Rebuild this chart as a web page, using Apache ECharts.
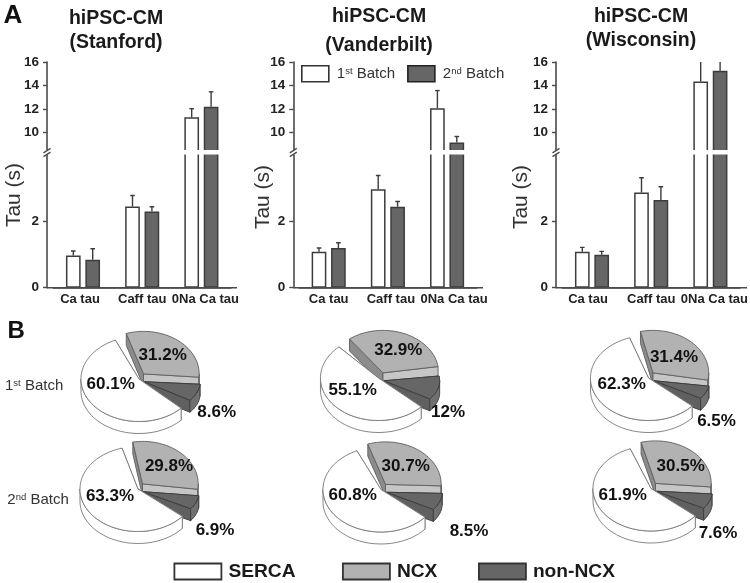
<!DOCTYPE html>
<html><head><meta charset="utf-8">
<script src="https://cdn.jsdelivr.net/npm/echarts@6/dist/echarts.min.js"></script>
<style>html,body{margin:0;padding:0;background:#fff}#c{width:750px;height:583px}</style>
</head><body><div id="c"></div>
<script>
// ---------- DATA ----------
const tauCategories = ['Ca tau', 'Caff tau', '0Na Ca tau'];
const panelNames = ['Stanford', 'Vanderbilt', 'Wisconsin'];
const batchNames = ['1st Batch', '2nd Batch'];
const yTicksUpper = [10, 12, 14, 16];
const yTicksLower = [0, 2];

const stanford1 = [0.97, 2.44, 11.3];
const stanford1Top = [1.10, 2.77, 12.03];
const stanford2 = [0.84, 2.29, 12.2];
const stanford2Top = [1.17, 2.43, 13.46];

const vanderbilt1 = [1.08, 2.96, 12.06];
const vanderbilt1Top = [1.19, 3.37, 13.57];
const vanderbilt2 = [1.19, 2.43, 9.14];
const vanderbilt2Top = [1.35, 2.59, 9.66];

const wisconsin1 = [1.08, 2.86, 14.33];
const wisconsin1Top = [1.21, 3.30, 16.6];
const wisconsin2 = [0.99, 2.63, 15.26];
const wisconsin2Top = [1.09, 3.03, 16.4];

const sliceNames = ['SERCA', 'NCX', 'non-NCX'];
// order of pies: row 1 col 1..3, row 2 col 1..3
const serca  = [60.1, 55.1, 62.3, 63.3, 60.8, 61.9];
const ncx    = [31.2, 32.9, 31.4, 29.8, 30.7, 30.5];
const nonNcx = [8.6, 12, 6.5, 6.9, 8.5, 7.6];

// ---------- LAYOUT ----------
const FONT = '"Liberation Sans", Arial, sans-serif';
const panelLayout = [
  {axisX: 47,    endX: 237, first: 83,    titleX: 116, title1: 19, title2: 43, tauX: 14.7, tauY: 195, labelShift: [-3, 0, 4]},
  {axisX: 293.3, endX: 483, first: 328.7, titleX: 379, title1: 17, title2: 46, tauX: 263, tauY: 197, labelShift: [0, 3, 7]},
  {axisX: 556,   endX: 747, first: 592,   titleX: 641, title1: 17, title2: 41, tauX: 521.3, tauY: 197, labelShift: [-4, 0, 4]}
];
const SPACING = 59.2, BAR_W = 14.7, BAR_GAP = 4.7;
const UP_TOP = 62, BREAK_Y = 152, ZERO_Y = 287.7;
const UP_MIN = 16 - (BREAK_Y - UP_TOP) / 11.75;
const LOW_MAX = (ZERO_Y - BREAK_Y) / 33.3;

const RX = 58, RY = 42.5, DEPTH = 12 / 42.5;
const M = 1.25;
const pieLayout = [
  {cx: 141,   cy: 377.5, start: 108},
  {cx: 380.5, cy: 376.5, start: 127},
  {cx: 650.5, cy: 376.5, start: 103},
  {cx: 140,   cy: 487.5, start: 100},
  {cx: 383,   cy: 488,   start: 108.5},
  {cx: 653,   cy: 487,   start: 105}
];
// label centres, in order serca, ncx, nonNcx
const pieLabelPos = [
  [[110.7, 384], [162.7, 355], [216.7, 412.7]],
  [[352.7, 390.7], [398.3, 350.7], [448, 412]],
  [[621.7, 384], [674, 357.3], [716.5, 421]],
  [[110, 496], [169, 466], [215, 530]],
  [[352.7, 495], [405.7, 466.7], [469, 531]],
  [[622.7, 495.7], [680.7, 466], [718, 533]]
];
// off: slice displacement in pie units; sx, sy: scale; z2: paint order; trim: degrees of gap at each end
const sliceStyle = [
  {top: '#ffffff', stroke: '#777777', startWall: '#ffffff', endWall: '#ffffff', outer: '#ffffff', z2: 3, off: [-0.035, -0.035], sx: 1, sy: 1, trim: [8, 6]},
  {top: '#b2b2b2', stroke: '#5e5e5e', startWall: '#8c8c8c', endWall: '#c6c6c6', outer: '#9a9a9a', z2: 1, off: [0.043, 0.085], sx: 0.96, sy: 1, trim: [0, 0]},
  {top: '#666666', stroke: '#3c3c3c', startWall: '#606060', endWall: '#606060', outer: '#707070', z2: 2, off: [0.06, -0.1], sx: 0.96, sy: 0.75, trim: [0, 0]}
];
const bottomLegendLeft = [173.5, 342, 478];

// ---------- OPTION ----------
const grids = [], xAxes = [], yAxes = [], series = [], graphics = [];
const axisColor = '#4a4a4a';
const barSets = [
  [[stanford1, stanford1Top], [stanford2, stanford2Top]],
  [[vanderbilt1, vanderbilt1Top], [vanderbilt2, vanderbilt2Top]],
  [[wisconsin1, wisconsin1Top], [wisconsin2, wisconsin2Top]]
];
const barColors = ['#ffffff', '#666666'];

function errorRender(offset) {
  return function (params, api) {
    const i = api.value(0);
    const p0 = api.coord([i, api.value(1)]);
    const p1 = api.coord([i, api.value(2)]);
    const x = p0[0] + offset;
    const st = {stroke: '#3c3c3c', lineWidth: 1.4, fill: null};
    return {type: 'group', children: [
      {type: 'line', shape: {x1: x, y1: p0[1], x2: x, y2: p1[1]}, style: st},
      {type: 'line', shape: {x1: x - 2.3, y1: p1[1], x2: x + 2.3, y2: p1[1]}, style: st}
    ]};
  };
}

panelLayout.forEach((pl, p) => {
  const left = pl.first - SPACING / 2, width = SPACING * 3;
  const upIdx = grids.length;
  grids.push({left, width, top: UP_TOP, height: BREAK_Y - UP_TOP, outerBoundsMode: 'none'});
  const lowIdx = grids.length;
  grids.push({left, width, top: BREAK_Y, height: ZERO_Y - BREAK_Y, outerBoundsMode: 'none'});

  xAxes.push({gridIndex: upIdx, type: 'category', data: tauCategories, show: false});
  xAxes.push({gridIndex: lowIdx, type: 'category', data: tauCategories.map((c, k) => {
      const s = pl.labelShift[k];
      return {value: c, textStyle: {padding: s > 0 ? [0, 0, 0, 2 * s] : [0, -2 * s, 0, 0]}};
    }),
    axisLine: {lineStyle: {color: axisColor, width: 1.6}}, axisTick: {show: false},
    axisLabel: {interval: 0, margin: 5, fontFamily: FONT, fontWeight: 'bold', fontSize: 13, color: '#222'}});

  const yCommon = {type: 'value', offset: left - pl.axisX, splitLine: {show: false},
    axisLine: {show: true, lineStyle: {color: axisColor, width: 1.6}},
    axisTick: {show: true, length: 4, lineStyle: {color: axisColor, width: 1.4}},
    axisLabel: {margin: 8, fontFamily: FONT, fontWeight: 'bold', fontSize: 13.5, color: '#222'}};
  yAxes.push(Object.assign({}, yCommon, {gridIndex: upIdx, min: UP_MIN, max: 16,
    axisTick: Object.assign({}, yCommon.axisTick, {customValues: yTicksUpper}),
    axisLabel: Object.assign({}, yCommon.axisLabel, {customValues: yTicksUpper})}));
  yAxes.push(Object.assign({}, yCommon, {gridIndex: lowIdx, min: 0, max: LOW_MAX,
    axisTick: Object.assign({}, yCommon.axisTick, {customValues: yTicksLower}),
    axisLabel: Object.assign({}, yCommon.axisLabel, {customValues: yTicksLower})}));

  barSets[p].forEach((set, b) => {
    const [vals, tops] = set;
    const off = (b === 0 ? -1 : 1) * (BAR_W + BAR_GAP) / 2;
    const barCommon = {type: 'bar', name: batchNames[b], barWidth: BAR_W, barGap: (BAR_GAP / BAR_W * 100) + '%',
      itemStyle: {color: barColors[b], borderColor: '#3c3c3c', borderWidth: 1.5}, silent: true};
    series.push(Object.assign({}, barCommon, {xAxisIndex: lowIdx, yAxisIndex: lowIdx, data: vals.slice()}));
    series.push(Object.assign({}, barCommon, {xAxisIndex: upIdx, yAxisIndex: upIdx,
      data: vals.map(v => v > UP_MIN ? v : null)}));
    const errLow = [], errUp = [];
    vals.forEach((v, i) => { (v > UP_MIN ? errUp : errLow).push([i, v, tops[i]]); });
    series.push({type: 'custom', name: 'err', clip: true, silent: true, xAxisIndex: lowIdx, yAxisIndex: lowIdx,
      renderItem: errorRender(off), data: errLow, encode: {x: 0, y: 1}, z: 1});
    series.push({type: 'custom', name: 'err', clip: true, silent: true, xAxisIndex: upIdx, yAxisIndex: upIdx,
      renderItem: errorRender(off), data: errUp, encode: {x: 0, y: 1}, z: 1});
  });

  // axis break + baseline extension + texts
  graphics.push({type: 'rect', z: 100, shape: {x: pl.axisX - 5, y: 150, width: pl.endX - pl.axisX, height: 4.4},
    style: {fill: '#fff'}});
  [[154.4], [150.6]].forEach(([y]) => graphics.push({type: 'line', z: 101,
    shape: {x1: pl.axisX - 3.5, y1: y + 2.2, x2: pl.axisX + 3.5, y2: y - 2.2},
    style: {stroke: axisColor, lineWidth: 1.4}}));
  graphics.push({type: 'line', z: 101, shape: {x1: pl.axisX, y1: ZERO_Y, x2: pl.endX, y2: ZERO_Y},
    style: {stroke: axisColor, lineWidth: 1.6}});
  graphics.push({type: 'text', z: 101, x: pl.titleX, y: pl.title1,
    style: {text: 'hiPSC-CM', fill: '#1a1a1a', font: 'bold 19.5px ' + FONT, align: 'center', verticalAlign: 'middle'}});
  graphics.push({type: 'text', z: 101, x: pl.titleX, y: pl.title2,
    style: {text: '(' + panelNames[p] + ')', fill: '#1a1a1a', font: 'bold 19.5px ' + FONT, align: 'center', verticalAlign: 'middle'}});
  graphics.push({type: 'text', z: 101, x: pl.tauX, y: pl.tauY, rotation: Math.PI / 2,
    style: {text: 'Tau (s)', fill: '#333', font: '21px ' + FONT, align: 'center', verticalAlign: 'middle'}});
});

// ---------- 3D-looking pies, one grid per pie in unit coordinates ----------
const sliceValues = [serca, ncx, nonNcx];
const drawOrder = [1, 2, 0];   // clockwise order starting from the pie's start angle

function pieRender(pieIdx, sliceIdx) {
  return function (params, api) {
    const val = api.value(2);
    const total = sliceValues.reduce((s, arr) => s + arr[pieIdx], 0);
    let a = pieLayout[pieIdx].start;
    let a0 = a, a1 = a;
    drawOrder.forEach(s => {
      const sweep = sliceValues[s][pieIdx] / total * 360;
      if (s === sliceIdx) { a0 = a; a1 = a - val / total * 360; }
      a -= sweep;
    });
    const st = sliceStyle[sliceIdx];
    a0 -= st.trim[0]; a1 += st.trim[1];
    const ex = st.off[0], ey = st.off[1], sx = st.sx, sy = st.sy, z2 = st.z2;
    const rim = (deg, dy) => {
      const r = deg * Math.PI / 180;
      return api.coord([ex + sx * Math.cos(r), ey + sy * Math.sin(r) - dy]);
    };
    const arc = (from, to, dy) => {
      const pts = [], n = Math.max(2, Math.ceil(Math.abs(from - to) / 3));
      for (let k = 0; k <= n; k++) pts.push(rim(from + (to - from) * k / n, dy));
      return pts;
    };
    const poly = (points, fill) => ({type: 'polygon', z2, shape: {points},
      style: {fill, stroke: st.stroke, lineWidth: 0.9, lineJoin: 'round'}});
    const apex = api.coord([ex, ey]);
    const apexD = api.coord([ex, ey - DEPTH]);
    const wall = (ang, fill) => poly([apex, rim(ang, 0), rim(ang, DEPTH), apexD], fill);
    const children = [wall(a0, st.startWall), wall(a1, st.endWall)];
    // outer rim: the part of the arc that faces the viewer
    const lo = Math.max(a1, -180), hi = Math.min(a0, 0);
    if (hi > lo) {
      children.push(poly(arc(hi, lo, 0).concat(arc(hi, lo, DEPTH).reverse()), st.outer));
    }
    children.push(poly([apex].concat(arc(a0, a1, 0)), st.top));
    const pos = pieLabelPos[pieIdx][sliceIdx];
    children.push({type: 'text', z2: 20, x: pos[0], y: pos[1],
      style: {text: val + '%', fill: '#111', font: 'bold 17px ' + FONT, align: 'center', verticalAlign: 'middle'}});
    return {type: 'group', children};
  };
}
pieLayout.forEach((pie, i) => {
  const idx = grids.length;
  grids.push({left: pie.cx - RX * M, width: RX * 2 * M, top: pie.cy - RY * M,
    height: RY * (M + M + DEPTH), outerBoundsMode: 'none'});
  xAxes.push({gridIndex: idx, type: 'value', min: -M, max: M, show: false});
  yAxes.push({gridIndex: idx, type: 'value', min: -M - DEPTH, max: M, show: false});
  [0, 1, 2].forEach(s => {
    series.push({type: 'custom', name: sliceNames[s], coordinateSystem: 'cartesian2d', silent: true,
      xAxisIndex: idx, yAxisIndex: idx, renderItem: pieRender(i, s), z: 5, clip: false,
      itemStyle: {color: sliceStyle[s].top}, data: [[0, 0, sliceValues[s][i]]], encode: {x: 0, y: 1}});
  });
});

// ---------- static labels ----------
graphics.push({type: 'text', x: 3.5, y: 16, style: {text: 'A', fill: '#111', font: 'bold 26px ' + FONT, verticalAlign: 'middle'}});
graphics.push({type: 'text', x: 7.5, y: 331, style: {text: 'B', fill: '#111', font: 'bold 24px ' + FONT, verticalAlign: 'middle'}});
const richRow = {
  a: {font: '15px ' + FONT, fill: '#333', color: '#333'},
  s: {font: '9.5px ' + FONT, fill: '#333', color: '#333', verticalAlign: 'top', padding: [0, 0, 5, 0]}
};
graphics.push({type: 'text', x: 5, y: 386, style: {text: '{a|1}{s|st}{a| Batch}', rich: richRow, verticalAlign: 'middle'}});
graphics.push({type: 'text', x: 7.3, y: 500, style: {text: '{a|2}{s|nd}{a| Batch}', rich: richRow, verticalAlign: 'middle'}});

const legendFills = ['#fff', '#b2b2b2', '#666'];
const option = {
  animation: false,
  backgroundColor: '#fff',
  grid: grids, xAxis: xAxes, yAxis: yAxes, series,
  graphic: graphics,
  legend: [
    {data: [
        {name: batchNames[0], itemStyle: {color: '#fff', borderColor: '#333', borderWidth: 1.6}},
        {name: batchNames[1], itemStyle: {color: '#666', borderColor: '#222', borderWidth: 1.6}}],
      icon: 'rect', left: 301, top: 65, itemWidth: 27, itemHeight: 16, itemGap: 12, selectedMode: false, padding: 0, z: 20,
      formatter: n => n === batchNames[0] ? '{a|1}{s|st}{a| Batch}' : '{a|2}{s|nd}{a| Batch}',
      textStyle: {padding: [0, 0, 0, 3], rich: {
        a: {fontFamily: FONT, fontSize: 15, color: '#333'},
        s: {fontFamily: FONT, fontSize: 9.5, color: '#333', verticalAlign: 'top'}}}}
  ].concat(sliceNames.map((name, i) => ({
      data: [{name, itemStyle: {color: legendFills[i], borderColor: '#333', borderWidth: 1.8}}],
      icon: 'rect', left: bottomLegendLeft[i], top: 562, itemWidth: 47, itemHeight: 16, selectedMode: false, padding: 0,
      textStyle: {fontFamily: FONT, fontWeight: 'bold', fontSize: 19.2, color: '#1a1a1a', padding: [0, 0, 0, 2]}
  })))
};
echarts.init(document.getElementById('c'), null, {renderer: 'canvas'}).setOption(option);
</script>
</body></html>
